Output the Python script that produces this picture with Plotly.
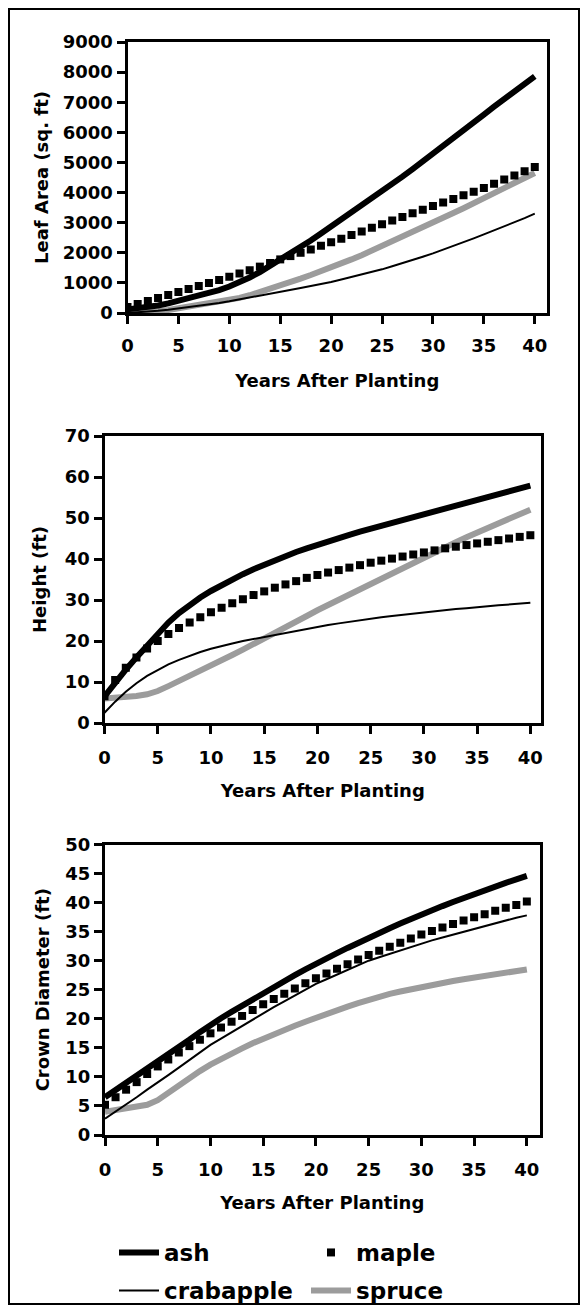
import plotly.graph_objects as go

# The page puts the figure 8px in from the window edge (default body margin),
# so the figure is sized and laid out in page pixels minus that offset.
PAGE_W, PAGE_H, OFF = 588, 1313, 8
W, H = PAGE_W - 2 * OFF, PAGE_H - 2 * OFF

years = list(range(0, 41))
species = ["ash", "maple", "crabapple", "spruce"]

# Leaf area (sq. ft)
leaf_ash = [120, 150, 190, 250, 320, 400, 480, 570, 660, 760, 880, 1020, 1180, 1360, 1560, 1770,
            1980, 2190, 2410, 2640, 2870, 3100, 3330, 3560, 3800, 4040, 4290, 4530, 4780, 5030,
            5290, 5550, 5810, 6070, 6330, 6590, 6850, 7110, 7360, 7610, 7860]
leaf_maple = [200, 300, 400, 500, 600, 700, 800, 900, 1000, 1100, 1200, 1310, 1420, 1540, 1660,
              1780, 1890, 2000, 2110, 2230, 2350, 2470, 2590, 2710, 2830, 2950, 3070, 3190, 3310,
              3430, 3550, 3670, 3790, 3910, 4030, 4150, 4290, 4430, 4570, 4710, 4850]
leaf_crabapple = [0, 20, 45, 75, 110, 150, 190, 235, 285, 335, 390, 450, 510, 570, 630, 690,
                  760, 830, 900, 960, 1030, 1110, 1190, 1270, 1360, 1450, 1550, 1650, 1760, 1870,
                  1980, 2100, 2220, 2350, 2480, 2610, 2740, 2870, 3010, 3150, 3300]
leaf_spruce = [0, 10, 30, 60, 100, 150, 200, 250, 300, 360, 420, 500, 590, 690, 800, 910, 1020,
               1140, 1260, 1380, 1500, 1640, 1780, 1920, 2070, 2220, 2370, 2520, 2680, 2840, 3000,
               3160, 3320, 3480, 3640, 3800, 3960, 4130, 4300, 4470, 4650]

# Height (ft)
height_ash = [6.5, 10, 13, 16, 19, 22, 24.5, 26.8, 28.8, 30.6, 32.2, 33.7, 35, 36.3, 37.5, 38.6,
              39.7, 40.7, 41.7, 42.6, 43.5, 44.3, 45.1, 45.9, 46.7, 47.4, 48.2, 48.9, 49.6, 50.3,
              51, 51.7, 52.4, 53.1, 53.8, 54.4, 55.1, 55.8, 56.5, 57.2, 57.9]
height_maple = [6.5, 10.5, 13.5, 16, 18.2, 20, 21.7, 23.2, 24.5, 25.8, 27, 28.1, 29.2, 30.2, 31.2,
                32.1, 33, 33.8, 34.6, 35.4, 36.1, 36.7, 37.3, 37.9, 38.5, 39.1, 39.6, 40.1, 40.6,
                41.1, 41.6, 42.1, 42.6, 43, 43.4, 43.8, 44.2, 44.6, 45, 45.4, 45.8]
height_crabapple = [2.5, 5.2, 7.6, 9.7, 11.5, 13, 14.3, 15.4, 16.4, 17.3, 18.1, 18.8, 19.4, 20,
                    20.5, 21, 21.5, 22, 22.5, 23, 23.5, 23.9, 24.3, 24.7, 25.1, 25.5, 25.8, 26.1,
                    26.4, 26.7, 27, 27.3, 27.5, 27.8, 28, 28.3, 28.5, 28.7, 28.9, 29.1, 29.3]
height_spruce = [6, 6.1, 6.3, 6.6, 7, 7.8, 9, 10.2, 11.5, 12.7, 14, 15.3, 16.6, 17.9, 19.2, 20.5,
                 21.9, 23.3, 24.7, 26.1, 27.5, 28.8, 30.1, 31.4, 32.7, 34, 35.3, 36.6, 37.9, 39.2,
                 40.5, 41.7, 42.9, 44.1, 45.3, 46.5, 47.6, 48.7, 49.8, 50.9, 52]

# Crown diameter (ft)
crown_ash = [6.5, 7.7, 8.9, 10.1, 11.3, 12.5, 13.8, 15.1, 16.4, 17.7, 19, 20.1, 21.2, 22.3, 23.4,
             24.5, 25.5, 26.5, 27.5, 28.5, 29.5, 30.4, 31.3, 32.2, 33.1, 34, 34.8, 35.6, 36.4,
             37.2, 38, 38.7, 39.4, 40.1, 40.8, 41.5, 42.2, 42.8, 43.4, 44, 44.6]
crown_maple = [5.2, 6.5, 7.8, 9.1, 10.5, 11.8, 13, 14.2, 15.3, 16.4, 17.5, 18.5, 19.5, 20.5, 21.5,
               22.5, 23.4, 24.3, 25.2, 26.1, 27, 27.8, 28.6, 29.4, 30.2, 31, 31.7, 32.4, 33.1,
               33.8, 34.5, 35.1, 35.7, 36.3, 36.9, 37.5, 38, 38.6, 39.1, 39.6, 40.2]
crown_crabapple = [2.8, 4, 5.2, 6.5, 7.8, 9, 10.3, 11.6, 12.9, 14.2, 15.5, 16.6, 17.7, 18.8, 19.9,
                   21, 22, 23, 24, 25, 26, 26.8, 27.6, 28.4, 29.2, 30, 30.6, 31.2, 31.8, 32.4,
                   33, 33.5, 34, 34.5, 35, 35.5, 36, 36.5, 37, 37.4, 37.8]
crown_spruce = [4, 4.3, 4.6, 4.9, 5.2, 6, 7.3, 8.6, 9.8, 11, 12.1, 13.1, 14, 14.9, 15.8, 16.6,
                17.4, 18.1, 18.8, 19.5, 20.2, 20.9, 21.5, 22.1, 22.7, 23.3, 23.8, 24.3, 24.7,
                25.1, 25.5, 25.9, 26.2, 26.5, 26.8, 27.1, 27.4, 27.7, 28, 28.2, 28.5]

x_ticks = [0, 5, 10, 15, 20, 25, 30, 35, 40]
leaf_ticks = [0, 1000, 2000, 3000, 4000, 5000, 6000, 7000, 8000, 9000]
height_ticks = [0, 10, 20, 30, 40, 50, 60, 70]
crown_ticks = [0, 5, 10, 15, 20, 25, 30, 35, 40, 45, 50]

x_title = "Years After Planting"
y_titles = ["Leaf Area (sq. ft)", "Height (ft)", "Crown Diameter (ft)"]

styles = {
    "ash": dict(mode="lines", line=dict(color="black", width=6)),
    "maple": dict(mode="markers", marker=dict(symbol="square", size=8, color="black")),
    "crabapple": dict(mode="lines", line=dict(color="black", width=2)),
    "spruce": dict(mode="lines", line=dict(color="#9c9c9c", width=6)),
}
legend_row = {"ash": "legend", "maple": "legend", "crabapple": "legend2", "spruce": "legend2"}
draw_order = ["spruce", "crabapple", "ash", "maple"]

panels = [
    {"ash": leaf_ash, "maple": leaf_maple, "crabapple": leaf_crabapple, "spruce": leaf_spruce},
    {"ash": height_ash, "maple": height_maple, "crabapple": height_crabapple, "spruce": height_spruce},
    {"ash": crown_ash, "maple": crown_maple, "crabapple": crown_crabapple, "spruce": crown_spruce},
]

fig = go.Figure()
for i, data in enumerate(panels):
    ax = "" if i == 0 else str(i + 1)
    for name in draw_order:
        fig.add_trace(go.Scatter(x=years, y=data[name], name=name,
                                 xaxis="x" + ax, yaxis="y" + ax,
                                 showlegend=(i == 0), legend=legend_row[name],
                                 legendrank=species.index(name) + 1,
                                 **styles[name]))

def px_x(p):
    return (p - OFF) / W

def px_y(p):
    return 1 - (p - OFF) / H

axis_common = dict(showline=True, linewidth=3, linecolor="black", mirror=True,
                   ticks="outside", ticklen=8, tickwidth=3, tickcolor="black",
                   showgrid=False, zeroline=False, tickfont=dict(size=18), automargin=False)

# plot boxes in page pixels: (left, right, top, bottom)
boxes = [(127.5, 547, 42, 313), (104.5, 541, 436, 723), (105, 539.5, 844.5, 1135)]
x_ranges = [[0, 41.2], [0, 41.0], [0, 41.2]]
y_ranges = [[0, 9000], [0, 70], [0, 50]]
y_tickvals = [leaf_ticks, height_ticks, crown_ticks]
y_standoffs = [10, 14, 12]

legend_common = dict(orientation="h", xanchor="left", yanchor="top",
                     itemwidth=40, entrywidth=137, entrywidthmode="pixels",
                     font=dict(size=23, family="DejaVu Sans", weight="bold"),
                     bgcolor="rgba(0,0,0,0)")

layout = dict(
    width=W, height=H, autosize=False,
    margin=dict(l=0, r=0, t=0, b=0, autoexpand=False),
    paper_bgcolor="white", plot_bgcolor="white",
    font=dict(family="DejaVu Sans", size=18, color="black", weight="bold"),
    legend=dict(legend_common, x=px_x(114), y=px_y(1231)),
    legend2=dict(legend_common, x=px_x(114), y=px_y(1269)),
    shapes=[dict(type="rect", xref="paper", yref="paper",
                 x0=1 / W, x1=1 - 1 / W, y0=1 / H, y1=1 - 1 / H,
                 line=dict(color="black", width=2))],
)

for i in range(3):
    ax = "" if i == 0 else str(i + 1)
    l, r, t, b = boxes[i]
    layout["xaxis" + ax] = dict(axis_common, domain=[px_x(l), px_x(r)], range=x_ranges[i],
                                tickvals=x_ticks, anchor="y" + ax,
                                ticklabelstandoff=(6 if i == 0 else 8),
                                title=dict(text=x_title, standoff=(20 if i == 0 else 18),
                                           font=dict(size=18)))
    layout["yaxis" + ax] = dict(axis_common, domain=[px_y(b), px_y(t)], range=y_ranges[i],
                                tickvals=y_tickvals[i], anchor="x" + ax,
                                title=dict(text=y_titles[i], standoff=y_standoffs[i],
                                           font=dict(size=18)))

fig.update_layout(**layout)

fig.write_html("out.html", config={"displayModeBar": False})
